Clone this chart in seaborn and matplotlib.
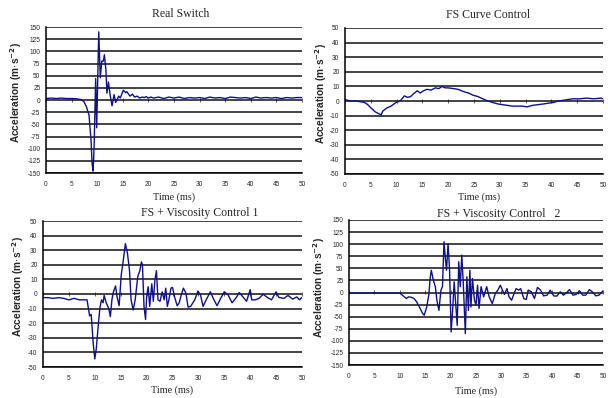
import matplotlib
matplotlib.use("Agg")
import matplotlib.pyplot as plt
import seaborn as sns
import numpy as np

# ---------------- data ----------------
titles = ["Real Switch", "FS Curve Control", "FS + Viscosity Control 1", "FS + Viscosity Control   2"]
x_ticks = [0, 5, 10, 15, 20, 25, 30, 35, 40, 45, 50]
y_ticks_150 = [-150, -125, -100, -75, -50, -25, 0, 25, 50, 75, 100, 125, 150]
y_ticks_50 = [-50, -40, -30, -20, -10, 0, 10, 20, 30, 40, 50]

t_real = [0, 1, 2, 3, 4, 5, 6, 6.8, 7.4, 7.9, 8.4, 8.8, 9.0, 9.2, 9.4, 9.7, 9.9, 10.3, 10.6,
          10.9, 11.2, 11.4, 11.7, 11.9, 12.2, 12.5, 12.9, 13.3, 13.6, 14.2, 14.5, 15.1, 15.6,
          15.8, 16.4, 16.9, 17.3, 17.8, 18.3, 18.8, 19.2, 19.6, 19.9, 20.5, 21, 22, 23, 24, 25,
          26, 27, 28, 29, 30, 31, 32, 33, 34, 35, 36, 37, 38, 39, 40, 41, 42, 43, 44, 45, 46,
          47, 48, 49, 50]
a_real = [3, 4, 3, 4, 3, 3, 2.5, 1, -3, -14, -31, -83, -130, -146, -96, 44, -57, 140, 46,
          80, 80, 93, 62, 14, 37, 12, -12, 11, -5, 8, 4, 20, 15,
          17, 8, 12, 6, 8, 4, 6, 5, 7, 4, 6, 4, 6, 3, 6, 4, 6,
          3, 5, 4, 5, 3, 6, 4, 5, 3, 6, 5, 4, 5, 3, 6, 4, 5, 4, 5, 3,
          5, 4, 5, 5]

t_curve = [0, 1, 2, 3, 3.8, 4.4, 5.1, 5.9, 6.7, 7.0, 7.3, 8.0, 8.9, 9.9, 10.7, 11.5, 12.1,
           12.7, 13.3, 14.0, 14.6, 15.2, 15.9, 16.7, 17.5, 18.2, 18.8, 19.4, 20.0, 21.0, 21.9,
           22.9, 23.9, 24.8, 25.8, 26.7, 27.7, 28.6, 29.6, 30.5, 31.5, 32.4, 33.4, 34.3, 35.3,
           36.3, 37.4, 38.5, 39.4, 40.4, 41.3, 42.3, 43.2, 44.2, 45.5, 46.8, 48.2, 49.6, 50]
a_curve = [1, 0, 0, -0.5, -1, -2.5, -5, -7.5, -9, -9.5, -7, -5, -3.5, -1, 0, 3.5, 2.5,
           3, 5, 7, 5.5, 7, 8, 7.5, 9, 8.5, 10, 9, 9, 8.5, 8,
           6.5, 5.5, 4, 3, 1.5, 0, -1, -2, -2.5, -3, -3.5, -3.5, -3.5, -4,
           -3, -2.5, -2, -1.5, -1, 0, 0.5, 1, 1.5, 1.5, 2, 1.5, 2, 1.5]

t_visc1 = [0, 1, 2, 3, 4, 5, 6, 7, 8, 8.5, 9.0, 9.3, 9.7, 10.0, 10.3, 10.7, 11.0, 11.3, 11.6,
           11.8, 12.2, 12.7, 13.0, 13.3, 13.6, 14.0, 14.3, 14.7, 15.1, 15.5, 15.9, 16.3, 16.7,
           17.0, 17.4, 17.8, 18.3, 18.7, 19.0, 19.2, 19.5, 19.8, 20.0, 20.3, 20.6, 21.0, 21.3,
           21.6, 21.9, 22.2, 22.6, 23.0, 23.4, 23.7, 24.0, 24.3, 24.7, 25.0, 25.4, 25.9, 26.3,
           26.7, 27.1, 27.6, 28.0, 28.5, 29.3, 29.9, 30.4, 30.9, 31.5, 32.3, 33.0, 33.6, 34.3,
           35.0, 35.7, 36.5, 37.2, 37.9, 38.6, 39.3, 40.0, 40.3, 41.0, 41.7, 42.5, 43.3, 44.1,
           45.0, 45.5, 46.5, 47.3, 48.2, 49.0, 49.5, 50.0]
a_visc1 = [-2.5, -2.5, -3, -2.5, -3, -4, -3, -4, -4, -4, -15, -14, -34, -44.5, -37, -20, -9, -4, -6,
           -1, -6, -10, -15.5, -4, 1.5, 5.5, -2, -8, 13, 23, 34.5, 28, 16,
           -4, -11, -4, 12, 16, 22, 20, -8.5, -17.5, -2, 5, -8.5, 7, -5,
           9.5, 16, -4, -5, 1.5, -4, 4, -8.5, -4, 4, 4.5, -2, -8, -6,
           -0.5, 4, 0.5, -9, -8.5, -4, 2, -0.5, -8.5, -4, 1.5, -4, -8, -3,
           1.5, -0.5, -6, -3, 1, -2, -5, 3, -4, -4, -3, -0.2, -2.3, -4,
           1.5, -2.3, -3, -1, -3.5, -2, -4, -2.3]

t_visc2 = [0, 2, 4, 6, 8, 10, 10.5, 11.3, 11.7, 12.3, 12.8, 13.3, 14.0, 14.5, 14.8, 15.3, 15.7,
           16.0, 16.2, 16.6, 17.0, 17.3, 17.7, 18.1, 18.4, 18.7, 19.0, 19.2, 19.5, 19.8, 20.1,
           20.4, 20.7, 21.0, 21.3, 21.6, 21.9, 22.2, 22.5, 22.9, 23.2, 23.5, 23.8, 24.0, 24.3,
           24.7, 25.0, 25.3, 25.6, 26.0, 26.5, 27.1, 27.6, 28.2, 28.8, 29.3, 29.8, 30.2, 30.6,
           31.1, 31.5, 32.0, 32.5, 32.9, 33.4, 33.8, 34.4, 34.9, 35.3, 35.9, 36.5, 37.1, 37.7,
           38.3, 39.0, 39.6, 40.3, 40.9, 41.6, 42.2, 42.8, 43.4, 44.1, 44.7, 45.4, 46.0, 46.6,
           47.3, 47.9, 48.6, 49.2, 50.0]
a_visc2 = [-1, -1, -1, -1, -1, -1, -5.5, -12.5, -9, -10, -12.5, -19, -33, -43.5, -47, -30, -5.5,
           32, 46, 25.5, 12, -16, -37, 5, 12, 105, 67, 46, 101, 46, -81.5,
           -37, 22, -23, -68, 63.5, 12, 77.5, 18.5, -85, 32.5, -37, 46, -30, 29,
           -16, -26, 15, -33, 12, -9, 12, -9, -23, -2, 5, 15, 5, -4,
           8, -9, -16, -2, 8, 5, 8, -12.5, -14.5, 5, 1.4, -12.5, 10.5, 5,
           -7, -5.5, 5, -7, -7.5, 1.4, -5.5, -0.7, 6, -5.5, -4, 3.5, -5.5, -5.5,
           6, 1.4, -7, -5.5, 3.5]

series = [(t_real, a_real, y_ticks_150), (t_curve, a_curve, y_ticks_50),
          (t_visc1, a_visc1, y_ticks_50), (t_visc2, a_visc2, y_ticks_150)]

# ---------------- layout ----------------
sns.set_style("white")
W, H = 608, 398
fig = plt.figure(figsize=(W / 100, H / 100), dpi=100)

# (left, right, top, bottom) in pixels
boxes = [(46, 302, 27, 173), (345, 603, 28, 174), (43, 302, 221, 367), (349, 603, 220, 365)]
title_pos = [(0.527, 13), (0.555, 13), (0.604, 8), (0.59, 6)]
xlabel_off = [24, 23, 23, 26]
ylabel_pos = [(16, 93), (321, 94), (18, 287), (319, 288)]

line_color = "#10108a"
serif = "Liberation Serif"
sans = "Liberation Sans"

for i, ((t, a, yt), (l, r, tp, b)) in enumerate(zip(series, boxes)):
    ax = fig.add_axes([l / W, (H - b) / H, (r - l) / W, (b - tp) / H])
    sns.lineplot(x=t, y=a, ax=ax, color=line_color, lw=1.0, estimator=None, sort=False)
    ax.set_xlim(0, 50)
    ax.set_ylim(yt[0], yt[-1])
    ax.set_xticks(x_ticks)
    ax.set_yticks(yt)
    ax.set_xticklabels([str(v) for v in x_ticks], fontsize=4.7, family=sans)
    ax.set_yticklabels([str(v) for v in yt], fontsize=4.7, family=sans)
    ax.tick_params(axis="x", length=0, pad=6)
    ax.tick_params(axis="y", length=2, width=0.6, color="black", pad=2)
    ax.grid(axis="y", color="#111111", lw=1.1)
    ax.grid(axis="x", visible=False)
    ax.set_axisbelow(True)
    for s in ["top", "right"]:
        ax.spines[s].set_visible(False)
    for s in ["left", "bottom"]:
        ax.spines[s].set_color("black")
        ax.spines[s].set_linewidth(1.1)
    # tick marks on the zero line
    sec = ax.secondary_xaxis(0.5)
    sec.set_xticks(x_ticks)
    sec.tick_params(axis="x", which="both", direction="inout", length=2.5, width=0.6,
                    labelbottom=False, labeltop=False, color="#444444")
    for s in sec.spines.values():
        s.set_visible(False)
    ph = b - tp
    tx, toff = title_pos[i]
    ax.text(tx, 1 + toff / ph, titles[i], transform=ax.transAxes, ha="center",
            va="center", fontsize=8.5, family=serif)
    ax.text(0.5 if i != 1 else 0.52, -xlabel_off[i] / ph, "Time (ms)", transform=ax.transAxes,
            ha="center", va="center", fontsize=7.3, family=serif)
    ax.set_xlabel("")
    ax.set_ylabel("")
    yx, yy = ylabel_pos[i]
    fig.text(yx / W, 1 - yy / H, r"Acceleration (m$\cdot$s$^{\mathbf{-2}}$)", rotation=90,
             ha="center", va="center", fontsize=7.3, fontweight="bold", family=sans)

fig.savefig("out.png", dpi=100)
